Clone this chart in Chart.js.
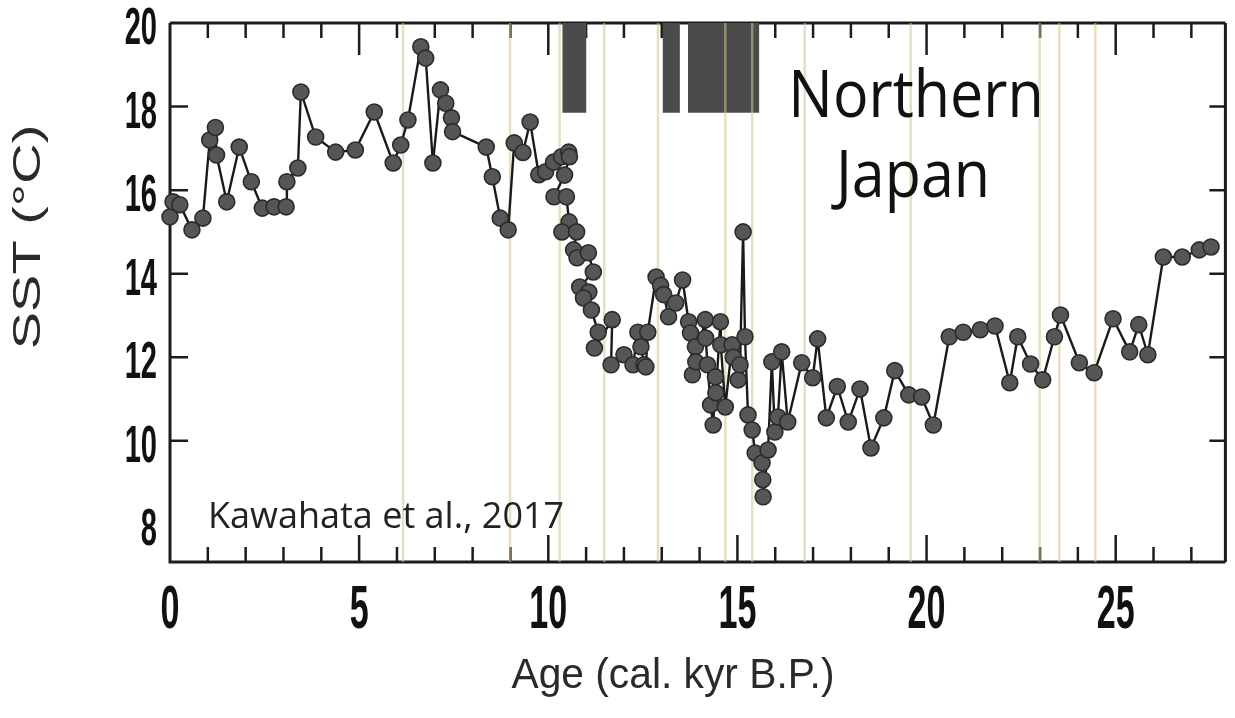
<!DOCTYPE html>
<html>
<head>
<meta charset="utf-8">
<title>SST Northern Japan</title>
<script src="https://cdn.jsdelivr.net/npm/chart.js@4.4.1/dist/chart.umd.min.js"></script>
<style>
html,body{margin:0;padding:0;background:#fff;}
#wrap{position:relative;width:1235px;height:718px;}
</style>
</head>
<body>
<div id="wrap"><canvas id="c"></canvas></div>
<script>
// age (cal. kyr B.P.) and SST (deg C), in the order the curve is drawn
const ages = [0.00,0.08,0.26,0.58,0.87,1.05,1.20,1.23,1.50,1.83,2.15,2.44,2.75,3.07,3.09,3.38,3.46,3.85,4.38,4.90,
  5.40,5.90,6.10,6.29,6.63,6.76,6.95,7.15,7.29,7.44,7.47,8.36,8.52,8.73,8.94,9.10,9.33,9.52,9.75,9.93,
  10.14,10.35,10.54,10.56,10.43,10.15,10.48,10.55,10.36,10.75,10.67,10.76,11.06,11.19,10.83,11.07,10.93,11.14,11.32,11.22,
  11.69,11.66,12.00,12.24,12.37,12.45,12.53,12.58,12.63,12.85,12.97,13.05,13.18,13.37,13.55,13.71,13.76,13.81,13.89,13.90,
  14.15,14.16,14.21,14.29,14.36,14.42,14.43,14.55,14.56,14.68,14.86,14.89,15.02,15.07,15.15,15.20,15.28,15.39,15.47,15.65,
  15.67,15.68,15.81,15.91,15.99,16.07,16.17,16.33,16.70,16.99,17.12,17.35,17.64,17.93,18.24,18.53,18.87,19.16,19.53,19.87,
  20.18,20.60,20.97,21.42,21.81,22.20,22.41,22.75,23.07,23.38,23.54,24.04,24.43,24.93,25.37,25.61,25.85,26.26,26.76,27.21,27.52];
const sst = [15.36,15.72,15.65,15.05,15.33,17.20,17.50,16.84,15.72,17.03,16.20,15.57,15.60,15.60,16.20,16.53,18.35,17.27,16.91,16.96,
  17.87,16.65,17.08,17.68,19.43,19.16,16.65,18.40,18.08,17.73,17.40,17.03,16.32,15.33,15.05,17.13,16.90,17.63,16.37,16.44,
  16.67,16.80,16.91,16.80,16.36,15.84,15.84,15.24,15.00,15.00,14.57,14.38,14.50,14.04,13.68,13.56,13.42,13.13,12.60,12.22,
  12.90,11.82,12.06,11.82,12.60,12.25,11.82,11.77,12.60,13.92,13.72,13.50,12.97,13.30,13.85,12.85,12.58,11.58,12.25,11.89,
  12.90,12.46,11.82,10.86,10.38,11.53,11.15,12.85,12.30,10.81,12.30,12.00,11.46,11.82,15.00,12.49,10.62,10.26,9.71,9.47,
  9.07,8.66,9.78,11.89,10.21,10.57,12.13,10.45,11.87,11.51,12.44,10.55,11.30,10.45,11.24,9.83,10.55,11.68,11.10,11.05,
  10.38,12.49,12.60,12.66,12.75,11.39,12.49,11.84,11.46,12.49,13.01,11.87,11.63,12.92,12.13,12.78,12.06,14.40,14.40,14.57,14.64];

// thin vertical event lines (kyr)
const eventLines = [6.16,8.99,10.30,11.48,12.90,14.68,15.39,16.78,19.58,22.99,23.51,24.46];
// dark bars at the top
const barFrom = [10.37,13.02,13.69];
const barTo   = [11.01,13.48,15.58];
const barBase = 17.85;

const xLabels = [0,5,10,15,20,25];
const yLabels = [8,10,12,14,16,18,20];
const yMarks  = [10,12,14,16,18];

const X_MIN=0, X_MAX=27.9, Y_MIN=7.1, Y_MAX=20;

function squeezed(ctx, txt, x, y, sx){
  ctx.save(); ctx.translate(x,y); ctx.scale(sx,1); ctx.fillText(txt,0,0); ctx.restore();
}

const frame = {
  id:'frame',
  beforeDatasetsDraw(ch){
    const ctx=ch.ctx, a=ch.chartArea, x=ch.scales.x, y=ch.scales.y;
    ctx.save();
    ctx.strokeStyle='#1c1c1c';
    ctx.lineWidth=2.5;
    ctx.beginPath();
    x.ticks.forEach(function(t){
      if(t.value<=X_MIN) return;
      const px=x.getPixelForValue(t.value), major=t.value%5===0;
      ctx.moveTo(px,a.bottom); ctx.lineTo(px,a.bottom-(major?27:15));
      ctx.moveTo(px,a.top); ctx.lineTo(px,a.top+(major?32:15));
    });
    yMarks.forEach(function(v){
      const py=y.getPixelForValue(v);
      ctx.moveTo(a.left,py); ctx.lineTo(a.left+18,py);
      ctx.moveTo(a.right,py); ctx.lineTo(a.right-16,py);
    });
    ctx.stroke();
    ctx.lineWidth=3;
    ctx.beginPath();
    ctx.moveTo(a.left,a.top); ctx.lineTo(a.right,a.top);
    ctx.moveTo(a.left,a.top); ctx.lineTo(a.left,a.bottom); ctx.lineTo(a.right,a.bottom);
    ctx.moveTo(a.right,a.top); ctx.lineTo(a.right,a.bottom);
    ctx.stroke();
    ctx.restore();
  },
  afterDraw(ch){
    const ctx=ch.ctx, a=ch.chartArea, x=ch.scales.x, y=ch.scales.y;
    ctx.save();
    // tick labels, bold and condensed
    ctx.fillStyle='#111';
    ctx.textBaseline='alphabetic';
    ctx.font='bold 62px "Liberation Sans", Arial, sans-serif';
    ctx.textAlign='center';
    xLabels.forEach(function(v){ squeezed(ctx,String(v),x.getPixelForValue(v),a.bottom+66,0.55); });
    ctx.font='bold 51px "Liberation Sans", Arial, sans-serif';
    ctx.textAlign='right';
    yLabels.forEach(function(v){ squeezed(ctx,String(v),a.left-13,y.getPixelForValue(v)+21,0.57); });

    // axis titles
    ctx.fillStyle='#2a2a2a';
    ctx.font='42px "Liberation Sans", Arial, sans-serif';
    ctx.textAlign='center';
    squeezed(ctx,'Age (cal. kyr B.P.)',673,688,0.97);
    ctx.save();
    ctx.translate(29,237); ctx.rotate(-Math.PI/2); ctx.scale(1,0.7);
    ctx.font='56px "Liberation Sans", Arial, sans-serif';
    ctx.textBaseline='middle';
    ctx.fillText('SST (\u00B0C)',0,0);
    ctx.restore();

    // annotations
    ctx.fillStyle='#111';
    ctx.textAlign='center';
    ctx.font='65px "Open Sans", "Noto Sans", sans-serif';
    squeezed(ctx,'Northern',916,117,0.91);
    squeezed(ctx,'Japan',913,197,0.91);
    ctx.fillStyle='#222';
    ctx.textAlign='left';
    ctx.font='36px "Open Sans", "Noto Sans", sans-serif';
    ctx.fillText('Kawahata et al., 2017',208,528);
    ctx.restore();
  }
};

const datasets = [];
datasets.push({
  label:'SST',
  data: ages.map(function(v,i){ return {x:v, y:sst[i]}; }),
  borderColor:'#1a1a1a', borderWidth:2.4,
  pointRadius:8, pointBackgroundColor:'#565656', pointBorderColor:'#2b2b2b', pointBorderWidth:1.6,
  tension:0, clip:false, order:0
});
const evData=[];
eventLines.forEach(function(v){ evData.push({x:v,y:Y_MIN},{x:v,y:Y_MAX},{x:v,y:null}); });
datasets.push({
  label:'events', data:evData,
  borderColor:'rgba(214,194,140,0.55)', borderWidth:2.5,
  pointRadius:0, spanGaps:false, order:1
});
barFrom.forEach(function(f,i){
  datasets.push({
    label:'bar'+i,
    data:[{x:f,y:Y_MAX},{x:barTo[i],y:Y_MAX}],
    fill:{value:barBase}, backgroundColor:'#4b4b4b',
    borderWidth:0, pointRadius:0, order:2
  });
});

new Chart(document.getElementById('c'),{
  type:'line',
  data:{datasets:datasets},
  options:{
    responsive:true, maintainAspectRatio:false, animation:false,
    layout:{padding:{top:23,right:0,left:0,bottom:0}},
    plugins:{legend:{display:false}, tooltip:{enabled:false}},
    scales:{
      x:{type:'linear', min:X_MIN, max:X_MAX,
         ticks:{display:false, stepSize:1, includeBounds:false},
         grid:{display:false}, border:{display:false},
         afterFit:function(s){ s.height=156; }},
      y:{type:'linear', min:Y_MIN, max:Y_MAX,
         ticks:{display:false, stepSize:2, includeBounds:false},
         grid:{display:false}, border:{display:false},
         afterFit:function(s){ s.width=170; }}
    }
  },
  plugins:[frame]
});
</script>
</body>
</html>
